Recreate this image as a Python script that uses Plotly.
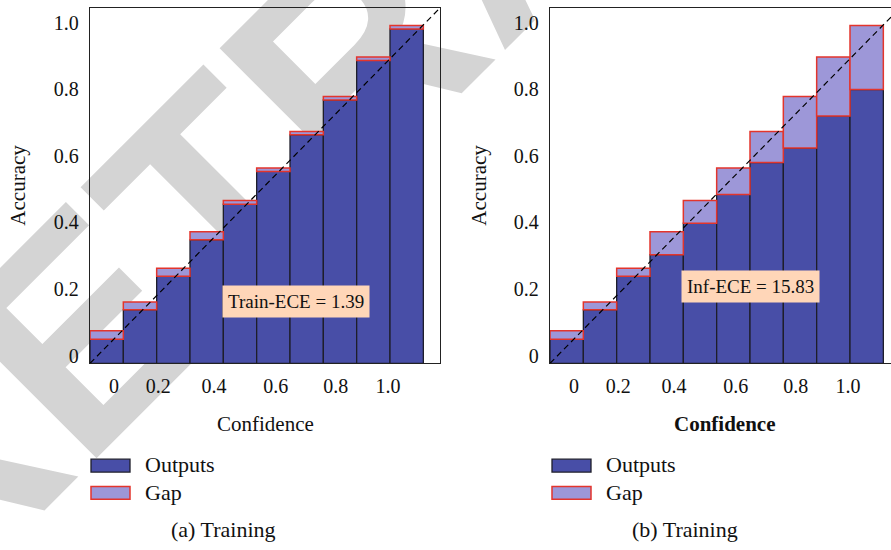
import plotly.graph_objects as go

# Reliability diagram data: 10 confidence bins
bin_centers = [0.05, 0.15, 0.25, 0.35, 0.45, 0.55, 0.65, 0.75, 0.85, 0.95]
gap_top = [0.096, 0.181, 0.281, 0.389, 0.481, 0.577, 0.685, 0.788, 0.905, 0.998]
train_acc = [0.071, 0.158, 0.257, 0.365, 0.470, 0.567, 0.675, 0.778, 0.895, 0.988]
inf_acc = [0.071, 0.158, 0.257, 0.321, 0.414, 0.499, 0.593, 0.636, 0.731, 0.809]

x_tick_vals = [0.072, 0.205, 0.372, 0.557, 0.737, 0.894]
x_tick_text = ["0", "0.2", "0.4", "0.6", "0.8", "1.0"]
y_tick_vals = [0.021, 0.220, 0.417, 0.613, 0.810, 1.006]
y_tick_text = ["0", "0.2", "0.4", "0.6", "0.8", "1.0"]

ece_text = ["Train-ECE = 1.39", "Inf-ECE = 15.83"]
ece_pos = [(0.618, 0.182), (0.602, 0.227)]
captions = ["(a) Training", "(b) Training"]

OUT_FILL = "#484ea7"
OUT_EDGE = "#1e1e2a"
GAP_FILL = "#9d97d8"
GAP_EDGE = "#e3352c"
BOX_FILL = "#ffd6b8"
FONT = "Liberation Serif"
W, H = 891, 550

fig = go.Figure()

# Background stamp, drawn first so the panels sit over it
fig.add_trace(go.Bar(
    x=[503], y=[400], base=[-293], width=[600],
    xaxis="x", yaxis="y",
    marker=dict(color="rgba(0,0,0,0)", line=dict(width=0)),
    text=["RETRACTED"], textposition="inside", insidetextanchor="middle",
    textangle=-45, constraintext="none", cliponaxis=False,
    textfont=dict(family="Liberation Sans", size=295, color="#d4d4d4", weight="bold"),
    hoverinfo="skip", showlegend=False,
))

panels = [("x2", "y2", train_acc), ("x3", "y3", inf_acc)]
for xa, ya, acc in panels:
    fig.add_trace(go.Bar(
        x=bin_centers, y=acc, width=0.1, xaxis=xa, yaxis=ya,
        marker=dict(color=OUT_FILL, line=dict(color=OUT_EDGE, width=1.3)),
        name="Outputs", showlegend=False,
    ))
    fig.add_trace(go.Bar(
        x=bin_centers, y=[g - a for g, a in zip(gap_top, acc)], base=acc,
        width=0.1, xaxis=xa, yaxis=ya,
        marker=dict(color=GAP_FILL, line=dict(color=GAP_EDGE, width=1.5)),
        name="Gap", showlegend=False,
    ))
    fig.add_trace(go.Scatter(
        x=[0, 1.05], y=[0, 1.05], mode="lines", xaxis=xa, yaxis=ya,
        line=dict(color="black", width=1.2, dash="6px,4px"),
        showlegend=False, hoverinfo="skip",
    ))

axis_common = dict(showgrid=False, zeroline=False, ticks="",
                   tickfont=dict(family=FONT, size=20, color="#111"),
                   showline=True, linecolor="#222", linewidth=1.3)

y_dom = [(H - 366) / H, (H - 8) / H]
fig.update_layout(
    width=W, height=H, margin=dict(l=0, r=0, t=0, b=0),
    paper_bgcolor="white", plot_bgcolor="rgba(0,0,0,0)",
    barmode="overlay", showlegend=False,
    xaxis=dict(domain=[0, 1], range=[0, W], visible=False, fixedrange=True),
    yaxis=dict(domain=[0, 1], range=[H, 0], visible=False, fixedrange=True),
    xaxis2=dict(domain=[90 / W, 440 / W], range=[0, 1.05], anchor="y2",
                tickvals=x_tick_vals, ticktext=x_tick_text, mirror=True,
                ticklabelstandoff=5, **axis_common),
    yaxis2=dict(domain=y_dom, range=[0, 1.05], anchor="x2",
                tickvals=y_tick_vals, ticktext=y_tick_text, mirror=True,
                ticklabelstandoff=6, **axis_common),
    xaxis3=dict(domain=[550 / W, 1.0], range=[0, 1.023], anchor="y3",
                tickvals=x_tick_vals, ticktext=x_tick_text, mirror=True,
                ticklabelstandoff=5, **axis_common),
    yaxis3=dict(domain=y_dom, range=[0, 1.05], anchor="x3",
                tickvals=y_tick_vals, ticktext=y_tick_text, mirror=False,
                ticklabelstandoff=6, **axis_common),
)

annotations = []
# ECE boxes
for (xa, ya, _), txt, (ex, ey) in zip(panels, ece_text, ece_pos):
    annotations.append(dict(
        x=ex, y=ey, xref=xa, yref=ya, text=txt, showarrow=False,
        xanchor="center", yanchor="middle",
        bgcolor=BOX_FILL, borderpad=5,
        font=dict(family=FONT, size=19, color="#111"),
    ))


def px(x):
    return x / W


def py(y):
    return (H - y) / H


def label(x, y, text, size=21, angle=0, xanchor="center"):
    return dict(x=px(x), y=py(y), xref="paper", yref="paper", text=text,
                textangle=angle, showarrow=False, xanchor=xanchor, yanchor="middle",
                font=dict(family=FONT, size=size, color="#111"))


# Axis titles
annotations += [
    label(265, 427, "Confidence"),
    label(725, 427, "<b>Confidence</b>"),
    label(18, 187, "Accuracy", angle=-90),
    label(479, 187, "Accuracy", angle=-90),
]

# Captions
for cx, cap in zip([223, 685], captions):
    annotations.append(label(cx, 533, cap, size=22))

# Legends (one per panel)
shapes = []
for lx in [91, 552]:
    shapes.append(dict(type="rect", xref="paper", yref="paper",
                       x0=px(lx), x1=px(lx + 39), y0=py(475.5), y1=py(462.5),
                       fillcolor=OUT_FILL, line=dict(color=OUT_EDGE, width=1.3)))
    shapes.append(dict(type="rect", xref="paper", yref="paper",
                       x0=px(lx), x1=px(lx + 39), y0=py(503), y1=py(490),
                       fillcolor=GAP_FILL, line=dict(color=GAP_EDGE, width=1.5)))
    for ty, name in [(468, "Outputs"), (496, "Gap")]:
        annotations.append(label(lx + 52, ty, name, size=22, xanchor="left"))

fig.update_layout(annotations=annotations, shapes=shapes)
fig.write_html("out.html")
